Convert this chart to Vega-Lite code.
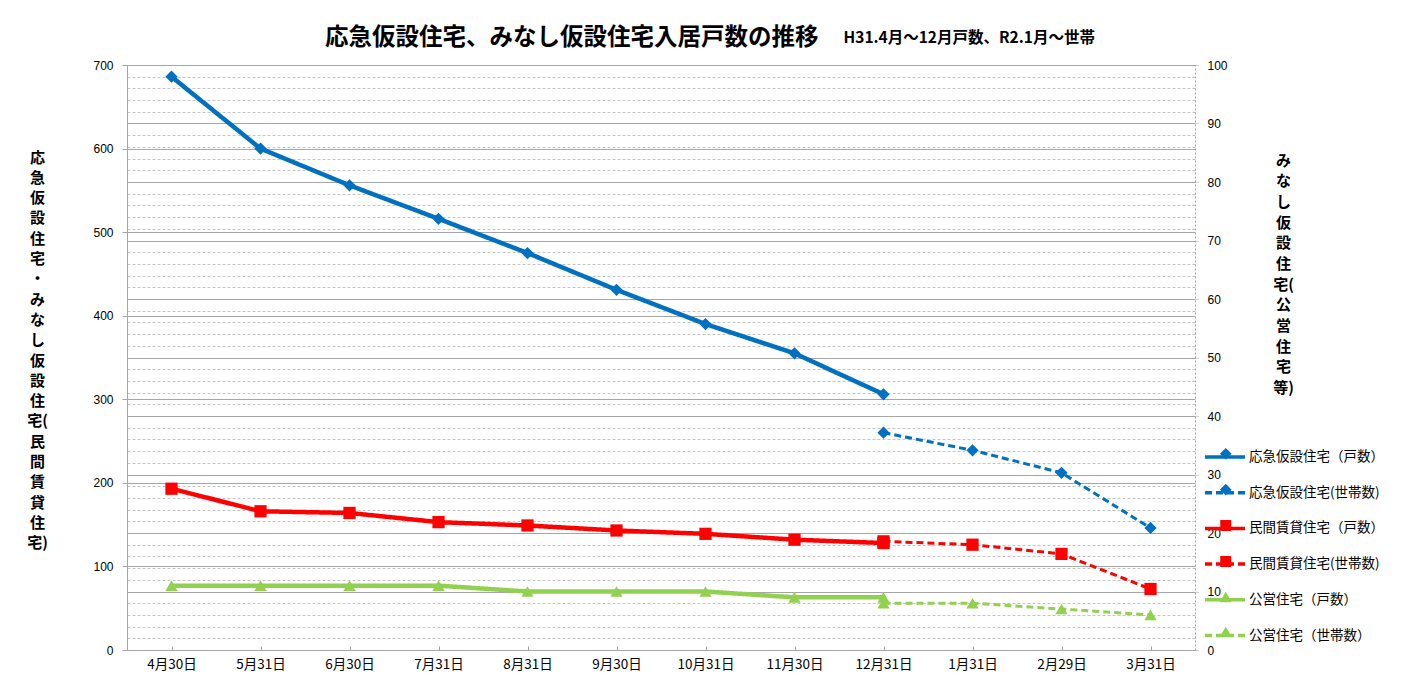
{
  "$schema": "https://vega.github.io/schema/vega-lite/v6.json",
  "width": 1068,
  "height": 585,
  "autosize": {"type": "none"},
  "padding": {"left": 127, "top": 65, "right": 210, "bottom": 31},
  "background": "white",
  "config": {
    "view": {"stroke": null},
    "font": "Noto Sans CJK JP",
    "axis": {"labelColor": "black", "titleColor": "black"}
  },
  "title": {
    "text": "応急仮設住宅、みなし仮設住宅入居戸数の推移",
    "anchor": "start",
    "frame": "group",
    "dx": 198,
    "dy": 23,
    "fontSize": 23.5,
    "fontWeight": "bold",
    "font": "Noto Sans CJK JP",
    "color": "black"
  },
  "data": {
    "values": [
      {"date": "4月30日", "series": "応急仮設住宅（戸数）", "value": 686, "axis": "left"},
      {"date": "5月31日", "series": "応急仮設住宅（戸数）", "value": 600, "axis": "left"},
      {"date": "6月30日", "series": "応急仮設住宅（戸数）", "value": 556, "axis": "left"},
      {"date": "7月31日", "series": "応急仮設住宅（戸数）", "value": 516, "axis": "left"},
      {"date": "8月31日", "series": "応急仮設住宅（戸数）", "value": 475, "axis": "left"},
      {"date": "9月30日", "series": "応急仮設住宅（戸数）", "value": 431, "axis": "left"},
      {"date": "10月31日", "series": "応急仮設住宅（戸数）", "value": 390, "axis": "left"},
      {"date": "11月30日", "series": "応急仮設住宅（戸数）", "value": 355, "axis": "left"},
      {"date": "12月31日", "series": "応急仮設住宅（戸数）", "value": 306, "axis": "left"},
      {"date": "12月31日", "series": "応急仮設住宅(世帯数)", "value": 260, "axis": "left"},
      {"date": "1月31日", "series": "応急仮設住宅(世帯数)", "value": 239, "axis": "left"},
      {"date": "2月29日", "series": "応急仮設住宅(世帯数)", "value": 212, "axis": "left"},
      {"date": "3月31日", "series": "応急仮設住宅(世帯数)", "value": 146, "axis": "left"},
      {"date": "4月30日", "series": "民間賃貸住宅（戸数）", "value": 193, "axis": "left"},
      {"date": "5月31日", "series": "民間賃貸住宅（戸数）", "value": 166, "axis": "left"},
      {"date": "6月30日", "series": "民間賃貸住宅（戸数）", "value": 164, "axis": "left"},
      {"date": "7月31日", "series": "民間賃貸住宅（戸数）", "value": 153, "axis": "left"},
      {"date": "8月31日", "series": "民間賃貸住宅（戸数）", "value": 149, "axis": "left"},
      {"date": "9月30日", "series": "民間賃貸住宅（戸数）", "value": 143, "axis": "left"},
      {"date": "10月31日", "series": "民間賃貸住宅（戸数）", "value": 139, "axis": "left"},
      {"date": "11月30日", "series": "民間賃貸住宅（戸数）", "value": 132, "axis": "left"},
      {"date": "12月31日", "series": "民間賃貸住宅（戸数）", "value": 128, "axis": "left"},
      {"date": "12月31日", "series": "民間賃貸住宅(世帯数)", "value": 130, "axis": "left"},
      {"date": "1月31日", "series": "民間賃貸住宅(世帯数)", "value": 126, "axis": "left"},
      {"date": "2月29日", "series": "民間賃貸住宅(世帯数)", "value": 115, "axis": "left"},
      {"date": "3月31日", "series": "民間賃貸住宅(世帯数)", "value": 73, "axis": "left"},
      {"date": "4月30日", "series": "公営住宅（戸数）", "value": 11, "axis": "right"},
      {"date": "5月31日", "series": "公営住宅（戸数）", "value": 11, "axis": "right"},
      {"date": "6月30日", "series": "公営住宅（戸数）", "value": 11, "axis": "right"},
      {"date": "7月31日", "series": "公営住宅（戸数）", "value": 11, "axis": "right"},
      {"date": "8月31日", "series": "公営住宅（戸数）", "value": 10, "axis": "right"},
      {"date": "9月30日", "series": "公営住宅（戸数）", "value": 10, "axis": "right"},
      {"date": "10月31日", "series": "公営住宅（戸数）", "value": 10, "axis": "right"},
      {"date": "11月30日", "series": "公営住宅（戸数）", "value": 9, "axis": "right"},
      {"date": "12月31日", "series": "公営住宅（戸数）", "value": 9, "axis": "right"},
      {"date": "12月31日", "series": "公営住宅（世帯数）", "value": 8, "axis": "right"},
      {"date": "1月31日", "series": "公営住宅（世帯数）", "value": 8, "axis": "right"},
      {"date": "2月29日", "series": "公営住宅（世帯数）", "value": 7, "axis": "right"},
      {"date": "3月31日", "series": "公営住宅（世帯数）", "value": 6, "axis": "right"}
    ]
  },
  "encoding": {
    "x": {
      "field": "date",
      "type": "nominal",
      "scale": {"domain": ["4月30日", "5月31日", "6月30日", "7月31日", "8月31日", "9月30日", "10月31日", "11月30日", "12月31日", "1月31日", "2月29日", "3月31日"]},
      "axis": {
        "labelAngle": 0,
        "labelFont": "Noto Sans CJK JP",
        "labelFontSize": 13.5,
        "labelPadding": 11,
        "domainColor": "#a6a6a6",
        "tickColor": "#a6a6a6",
        "tickSize": -4,
        "grid": false,
        "title": "H31.4月～12月戸数、R2.1月～世帯",
        "titleX": 716,
        "titleY": -613,
        "titleAlign": "left",
        "titleBaseline": "middle",
        "titleFont": "Noto Sans CJK JP",
        "titleFontSize": 15.5,
        "titleFontWeight": "bold"
      }
    },
    "color": {
      "field": "series",
      "type": "nominal",
      "scale": {
        "domain": ["応急仮設住宅（戸数）", "応急仮設住宅(世帯数)", "民間賃貸住宅（戸数）", "民間賃貸住宅(世帯数)", "公営住宅（戸数）", "公営住宅（世帯数）"],
        "range": ["#0070C0", "#0070C0", "#FF0000", "#FF0000", "#92D050", "#92D050"]
      },
      "legend": {
        "orient": "none",
        "legendX": 1076,
        "legendY": 370,
        "title": null,
        "padding": 0,
        "symbolType": "stroke",
        "symbolSize": 1600,
        "symbolStrokeWidth": 3.5,
        "labelFont": "Noto Sans CJK JP",
        "labelFontSize": 13.5,
        "labelColor": "black",
        "labelOffset": 2,
        "labelLimit": 300,
        "rowPadding": 6.7
      }
    }
  },
  "layer": [
    {
      "transform": [{"filter": {"field": "axis", "equal": "left"}}],
      "encoding": {
        "y": {
          "field": "value",
          "type": "quantitative",
          "scale": {"domain": [0, 700]},
          "axis": {
            "orient": "left",
            "values": [0, 100, 200, 300, 400, 500, 600, 700],
            "grid": true,
            "gridColor": "#a6a6a6",
            "gridWidth": 1,
            "domainColor": "#a6a6a6",
            "tickColor": "#a6a6a6",
            "tickSize": 5,
            "labelPadding": 9,
            "labelFont": "Liberation Sans",
            "labelFontSize": 12,
            "title": ["応", "急", "仮", "設", "住", "宅", "・", "み", "な", "し", "仮", "設", "住", "宅(", "民", "間", "賃", "貸", "住", "宅)"],
            "titleAngle": 0,
            "titleX": -90,
            "titleY": 85,
            "titleAlign": "center",
            "titleBaseline": "top",
            "titleLineHeight": 20.3,
            "titleFont": "Noto Sans CJK JP",
            "titleFontSize": 15,
            "titleFontWeight": "bold"
          }
        }
      },
      "layer": [
        {
          "transform": [{"filter": {"field": "series", "oneOf": ["応急仮設住宅（戸数）", "民間賃貸住宅（戸数）"]}}],
          "mark": {"type": "line", "strokeWidth": 4.5},
          "encoding": {
            "strokeDash": {
              "field": "series",
              "type": "nominal",
              "scale": {
                "domain": ["応急仮設住宅（戸数）", "応急仮設住宅(世帯数)", "民間賃貸住宅（戸数）", "民間賃貸住宅(世帯数)", "公営住宅（戸数）", "公営住宅（世帯数）"],
                "range": [[1, 0], [7, 4], [1, 0], [7, 4], [1, 0], [7, 4]]
              }
            }
          }
        },
        {
          "transform": [{"filter": {"field": "series", "oneOf": ["応急仮設住宅(世帯数)", "民間賃貸住宅(世帯数)"]}}],
          "mark": {"type": "line", "strokeWidth": 3},
          "encoding": {
            "strokeDash": {"field": "series", "type": "nominal"}
          }
        },
        {
          "mark": {"type": "point", "filled": true, "size": 150, "opacity": 1},
          "encoding": {
            "shape": {
              "field": "series",
              "type": "nominal",
              "scale": {"range": ["triangle-up", "triangle-up", "diamond", "diamond", "square", "square"]},
              "legend": {
                "orient": "none",
                "legendX": 1092,
                "legendY": 382,
                "title": null,
                "padding": 0,
                "symbolSize": 90,
                "symbolOpacity": 1,
                "symbolFillColor": "#000000",
                "labelFont": "Noto Sans CJK JP",
                "labelFontSize": 13.5,
                "labelExpr": "''",
                "labelOffset": 4,
                "rowPadding": 19.9,
                "values": ["応急仮設住宅（戸数）", "応急仮設住宅(世帯数)", "民間賃貸住宅（戸数）", "民間賃貸住宅(世帯数)", "公営住宅（戸数）", "公営住宅（世帯数）"],
                "encode": {
                  "symbols": {
                    "update": {
                      "fill": {"scale": "color", "field": "value"},
                      "stroke": {"scale": "color", "field": "value"},
                      "opacity": {"value": 1}
                    }
                  }
                }
              }
            }
          }
        }
      ]
    },
    {
      "transform": [{"filter": {"field": "axis", "equal": "right"}}],
      "encoding": {
        "y": {
          "field": "value",
          "type": "quantitative",
          "scale": {"domain": [0, 100]},
          "axis": {
            "orient": "right",
            "values": [0, 2, 4, 6, 8, 10, 12, 14, 16, 18, 20, 22, 24, 26, 28, 30, 32, 34, 36, 38, 40, 42, 44, 46, 48, 50, 52, 54, 56, 58, 60, 62, 64, 66, 68, 70, 72, 74, 76, 78, 80, 82, 84, 86, 88, 90, 92, 94, 96, 98, 100],
            "labelExpr": "datum.value % 10 === 0 ? datum.label : ''",
            "labelOverlap": false,
            "labelFont": "Liberation Sans",
            "labelFontSize": 12,
            "labelPadding": 8,
            "grid": true,
            "gridColor": {"condition": {"test": "datum.value % 10 === 0", "value": "#a6a6a6"}, "value": "#c4c4c4"},
            "gridDash": {"condition": {"test": "datum.value % 10 === 0", "value": []}, "value": [3, 2]},
            "gridWidth": 1,
            "domainColor": "#a6a6a6",
            "domainDash": [2, 2],
            "tickColor": "#a6a6a6",
            "tickSize": 4,
            "tickDash": [1, 1],
            "tickOpacity": {"condition": {"test": "datum.value % 10 === 0", "value": 1}, "value": 0},
            "title": ["み", "な", "し", "仮", "設", "住", "宅(", "公", "営", "住", "宅", "等)"],
            "titleAngle": 0,
            "titleX": 88,
            "titleY": 88,
            "titleAlign": "center",
            "titleBaseline": "top",
            "titleLineHeight": 20.7,
            "titleFont": "Noto Sans CJK JP",
            "titleFontSize": 15,
            "titleFontWeight": "bold"
          }
        }
      },
      "layer": [
        {
          "transform": [{"filter": {"field": "series", "equal": "公営住宅（戸数）"}}],
          "mark": {"type": "line", "strokeWidth": 4.5},
          "encoding": {
            "strokeDash": {"field": "series", "type": "nominal"}
          }
        },
        {
          "transform": [{"filter": {"field": "series", "equal": "公営住宅（世帯数）"}}],
          "mark": {"type": "line", "strokeWidth": 3},
          "encoding": {
            "strokeDash": {"field": "series", "type": "nominal"}
          }
        },
        {
          "mark": {"type": "point", "filled": true, "size": 150, "opacity": 1},
          "encoding": {
            "shape": {"field": "series", "type": "nominal"}
          }
        }
      ]
    }
  ],
  "resolve": {"scale": {"y": "independent"}}
}
